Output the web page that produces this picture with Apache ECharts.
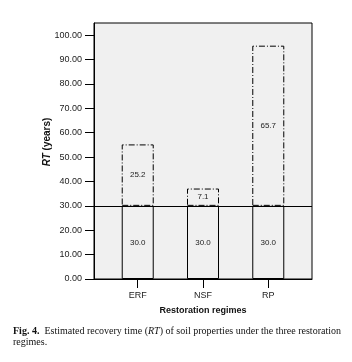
<!DOCTYPE html>
<html>
<head>
<meta charset="utf-8">
<script src="https://cdn.jsdelivr.net/npm/echarts@6/dist/echarts.min.js"></script>
<style>
html,body{margin:0;padding:0;background:#fff;}
#main{width:352px;height:362px;}
</style>
</head>
<body>
<div id="main"></div>
<script>
// 恢复方式
var categories = ['ERF', 'NSF', 'RP'];
var catPos = [1, 2, 3];
// 基础恢复时间
var baseValues = [30.0, 30.0, 30.0];
// 附加恢复时间
var extraValues = [25.2, 7.1, 65.7];
// 纵轴刻度
var yTicks = [0, 10, 20, 30, 40, 50, 60, 70, 80, 90, 100];
var refLine = 30;

// 数据维度顺序为 [值, 位置]，保证堆叠在纵轴上
var baseData = [], extraData = [];
for (var i = 0; i < categories.length; i++) {
	baseData.push([baseValues[i], catPos[i]]);
	extraData.push([extraValues[i], catPos[i]]);
}

function valLabel(p){ return p.value[0].toFixed(1); }

var myChart = echarts.init(document.getElementById('main'));
var option = {
	animation: false,
	grid: {
		left: 94, right: 40, top: 23, bottom: 83,
		show: true, backgroundColor: '#f0f0f0', borderColor: '#000', borderWidth: 1
	},
	xAxis: {
		type: 'value',
		min: 0.33, max: 3.67,
		name: 'Restoration regimes',
		nameLocation: 'middle',
		nameGap: 27,
		nameTextStyle: {fontFamily: 'Liberation Sans', fontSize: 9, fontWeight: 'bold', color: '#111'},
		splitLine: {show: false},
		axisLine: {lineStyle: {color: '#000'}},
		axisTick: {show: true, customValues: catPos, length: 9, lineStyle: {color: '#000'}},
		axisLabel: {
			customValues: catPos, margin: 12,
			fontFamily: 'Liberation Sans', fontSize: 9, color: '#222',
			formatter: function(v){ return categories[catPos.indexOf(Math.round(v))] || ''; }
		}
	},
	yAxis: {
		type: 'value',
		min: 0, max: 105,
		name: '{i|RT} (years)',
		nameLocation: 'middle',
		nameRotate: 90,
		nameGap: 42,
		nameMoveOverlap: false,
		nameTextStyle: {
			fontFamily: 'Liberation Sans', fontSize: 10, fontWeight: 'bold', color: '#111',
			padding: [0, 0, 0, 18],
			rich: {i: {fontFamily: 'Liberation Sans', fontSize: 10, fontWeight: 'bold', fontStyle: 'italic', color: '#111'}}
		},
		splitLine: {show: false},
		axisLine: {show: true, lineStyle: {color: '#000'}},
		axisTick: {show: true, customValues: yTicks, length: 9, lineStyle: {color: '#000'}},
		axisLabel: {
			customValues: yTicks, margin: 12,
			fontFamily: 'Liberation Sans', fontSize: 9, color: '#222',
			formatter: function(v){ return v.toFixed(2); }
		}
	},
	series: [
		{
			type: 'bar', stack: 'rt', barWidth: 32,
			encode: {x: 1, y: 0},
			data: baseData,
			itemStyle: {color: '#f0f0f0', borderColor: '#000', borderWidth: 1},
			label: {show: true, position: 'inside', fontFamily: 'Liberation Sans', fontSize: 8, color: '#222', formatter: valLabel},
			markLine: {
				silent: true, symbol: 'none', z: 10,
				label: {show: false},
				lineStyle: {color: '#000', width: 1, type: 'solid'},
				data: [{yAxis: refLine}]
			}
		},
		{
			type: 'bar', stack: 'rt', barWidth: 32,
			encode: {x: 1, y: 0},
			data: extraData,
			itemStyle: {color: '#f0f0f0', borderColor: '#000', borderWidth: 1, borderType: [6, 2, 1, 2]},
			label: {show: true, position: 'inside', fontFamily: 'Liberation Sans', fontSize: 8, color: '#222', formatter: valLabel}
		}
	],
	graphic: [
		{
			type: 'text', left: 13, top: 326,
			style: {
				text: '{b|Fig. 4.}  Estimated recovery time ({i|RT}) of soil properties under the three restoration\nregimes.',
				fontFamily: 'Liberation Serif', fontSize: 10, fill: '#111', lineHeight: 11,
				rich: {
					b: {fontFamily: 'Liberation Serif', fontSize: 10, fontWeight: 'bold', fill: '#111'},
					i: {fontFamily: 'Liberation Serif', fontSize: 10, fontStyle: 'italic', fill: '#111'}
				}
			}
		}
	]
};
myChart.setOption(option);
</script>
</body>
</html>
